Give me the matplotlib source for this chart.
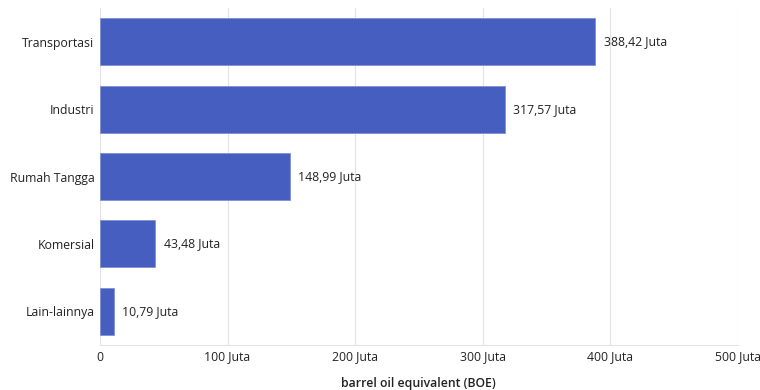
import numpy as np
import matplotlib
matplotlib.use("Agg")
from matplotlib import pyplot as plt

plt.rcParams['font.family'] = ['Open Sans', 'DejaVu Sans']

# data
categories = ["Transportasi", "Industri", "Rumah Tangga", "Komersial", "Lain-lainnya"]
values = [388.42, 317.57, 148.99, 43.48, 10.79]  # juta BOE
value_labels = ["388,42 Juta", "317,57 Juta", "148,99 Juta", "43,48 Juta", "10,79 Juta"]
x_ticks = [0, 100, 200, 300, 400, 500]
x_tick_labels = ["0", "100 Juta", "200 Juta", "300 Juta", "400 Juta", "500 Juta"]

fig = plt.figure(figsize=(7.6, 3.9), dpi=100)
ax = fig.add_axes([0.1316, 0.1154, 0.839, 0.864])

y = np.arange(len(categories))
ax.barh(y, values, height=0.7, color='#465ec0', edgecolor='#7f90d6', linewidth=0.6, zorder=3)

for yi, v, lab in zip(y, values, value_labels):
    ax.text(v + 6.5, yi, lab, va='center', ha='left', fontsize=8.8, color='#222222')

ax.set_yticks(y)
ax.set_yticklabels(categories, fontsize=8.8, color='#222222')
ax.set_ylim(len(categories) - 0.5, -0.5)

ax.set_xlim(0, 500)
ax.set_xticks(x_ticks)
ax.set_xticklabels(x_tick_labels, fontsize=8.8, color='#222222')
ax.set_xlabel("barrel oil equivalent (BOE)", fontsize=8.8, fontweight='semibold',
              color='#222222', labelpad=10)

ax.grid(axis='x', color='#e3e3e3', linewidth=0.8, zorder=0)
ax.tick_params(axis='both', length=0, pad=4)
for s in ['top', 'right', 'left']:
    ax.spines[s].set_visible(False)
ax.spines['bottom'].set_color('#e3e3e3')

fig.savefig("out.png", dpi=100)
